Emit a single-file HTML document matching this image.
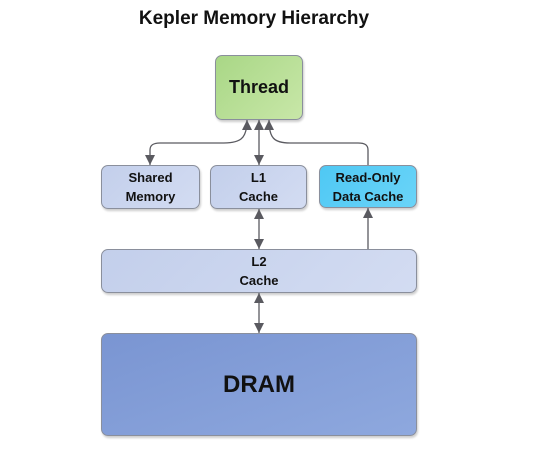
<!DOCTYPE html>
<html><head><style>
body{margin:0;width:538px;height:453px;background:#fff;font-family:"Liberation Sans",sans-serif;position:relative;overflow:hidden}
.b{position:absolute;box-sizing:border-box;border:1px solid #8a8f9c;border-radius:7px;display:flex;align-items:center;justify-content:center;text-align:center;font-weight:bold;color:#111;box-shadow:1px 2px 2px rgba(0,0,0,0.2)}
.s{background:linear-gradient(135deg,#c3cfeb,#d3dcf2);font-size:13px;line-height:19px}
</style></head><body>
<div style="position:absolute;left:0;width:508px;top:8px;text-align:center;font-weight:bold;font-size:19px;color:#111">Kepler Memory Hierarchy</div>
<div class="b" style="left:215px;top:55px;width:88px;height:65px;background:linear-gradient(135deg,#a9d786,#c8e7a8);font-size:18px">Thread</div>
<div class="b s" style="left:101px;top:165px;width:99px;height:44px">Shared<br>Memory</div>
<div class="b s" style="left:210px;top:165px;width:97px;height:44px">L1<br>Cache</div>
<div class="b" style="left:319px;top:165px;width:98px;height:43px;background:linear-gradient(135deg,#4fc8f4,#6ad4f8);font-size:13px;line-height:19px">Read-Only<br>Data Cache</div>
<div class="b s" style="left:101px;top:249px;width:316px;height:44px">L2<br>Cache</div>
<div class="b" style="left:101px;top:333px;width:316px;height:103px;background:linear-gradient(160deg,#7a95d2,#8ea8de);font-size:24px">DRAM</div>
<svg width="538" height="453" style="position:absolute;left:0;top:0" fill="none" stroke="#5a5a60" stroke-width="1.3">
<defs><marker id="a" markerWidth="11" markerHeight="10" refX="10" refY="5" orient="auto-start-reverse" markerUnits="userSpaceOnUse"><path d="M0,0 L10,5 L0,10z" fill="#5a5a60" stroke="none"/></marker></defs>
<path d="M247,120 C247,140 240,143 220,143 L160,143 C152,143 150,146 150,150 L150,165" marker-start="url(#a)" marker-end="url(#a)"/>
<path d="M259,120 L259,165" marker-start="url(#a)" marker-end="url(#a)"/>
<path d="M368,165 L368,150 C368,145 365,143 358,143 L290,143 C274,143 269,138 269,120" marker-end="url(#a)"/>
<path d="M259,209 L259,249" marker-start="url(#a)" marker-end="url(#a)"/>
<path d="M368,249 L368,208" marker-end="url(#a)"/>
<path d="M259,293 L259,333" marker-start="url(#a)" marker-end="url(#a)"/>
</svg>
</body></html>
